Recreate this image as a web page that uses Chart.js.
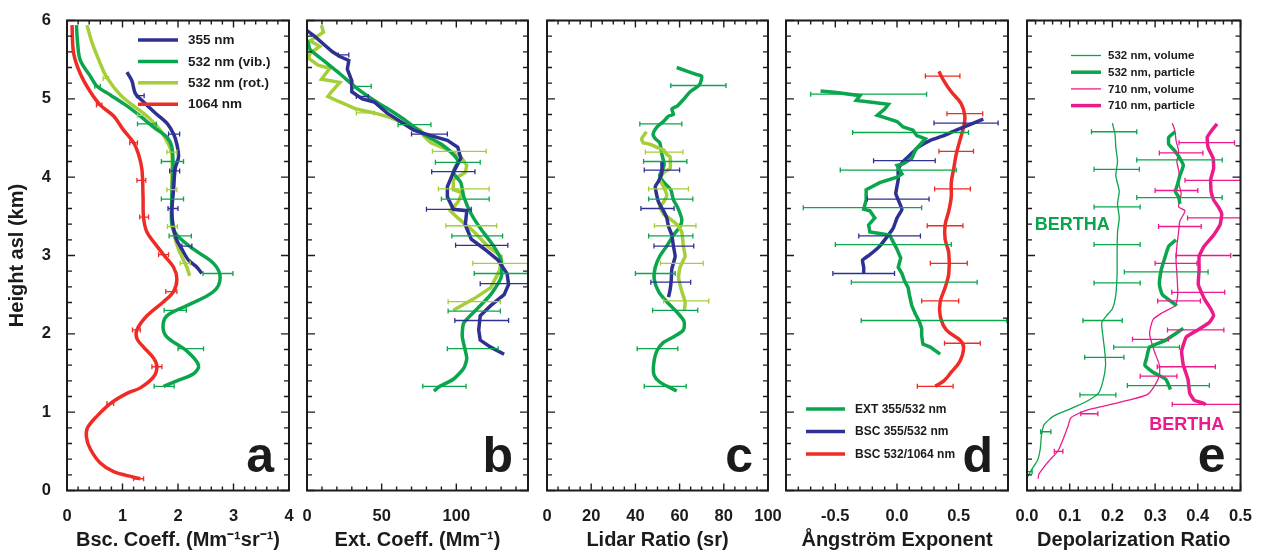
<!DOCTYPE html>
<html>
<head>
<meta charset="utf-8">
<script src="https://cdn.jsdelivr.net/npm/chart.js@4.4.0/dist/chart.umd.min.js"></script>
<style>
  body { margin: 0; background: #fff; }
  #wrap { position: relative; width: 1262px; height: 550px; }
  #wrap canvas { position: absolute; left: 0; top: 0; }
</style>
</head>
<body>
<div id="wrap">
  <canvas id="pa" width="1262" height="550"></canvas>
  <canvas id="pb" width="1262" height="550"></canvas>
  <canvas id="pc" width="1262" height="550"></canvas>
  <canvas id="pd" width="1262" height="550"></canvas>
  <canvas id="pe" width="1262" height="550"></canvas>
</div>
<script>
// ---- (a) backscatter coefficient, Mm-1 sr-1 ----
const bsc355H = [5.34,5.23,5.07,4.96,4.82,4.69,4.55,4.42,4.26,4.11,3.84,3.57,3.39,3.21,3.08,2.94,2.85,2.77];
const bsc355 = [1.08,1.17,1.23,1.38,1.59,1.8,1.92,1.98,2.01,1.95,1.92,1.89,1.91,1.97,2.07,2.19,2.34,2.43];
const bsc355Err = [[5.04,1.32,0.07],[4.55,1.93,0.1],[4.08,1.94,0.09],[3.6,1.91,0.09],[3.12,2.16,0.09]];

const bsc532vH = [5.94,5.72,5.49,5.29,5.16,5.05,4.91,4.78,4.64,4.51,4.38,4.11,3.75,3.39,3.26,3.08,2.9,2.72,2.54,2.36,2.23,2.09,1.96,1.78,1.6,1.49,1.4,1.33];
const bsc532v = [0.17,0.19,0.24,0.42,0.54,0.78,1.08,1.32,1.56,1.8,1.89,1.91,1.89,1.89,1.98,2.28,2.64,2.76,2.64,2.16,1.8,1.73,1.8,2.16,2.37,2.28,1.98,1.74];
const bsc532vErr = [[5.16,0.55,0.05],[4.68,1.44,0.17],[4.2,1.9,0.2],[3.72,1.9,0.2],[3.25,2.04,0.2],[2.77,2.72,0.27],[2.3,1.95,0.2],[1.81,2.23,0.23],[1.33,1.75,0.18]];

const bsc532rH = [5.94,5.72,5.45,5.27,5.05,4.91,4.78,4.6,4.42,4.29,4.02,3.75,3.48,3.21,3.03,2.85,2.74];
const bsc532r = [0.36,0.45,0.6,0.72,0.96,1.2,1.44,1.68,1.83,1.89,1.89,1.89,1.89,1.95,2.04,2.16,2.21];
const bsc532rErr = [[5.26,0.7,0.05],[4.79,1.34,0.07],[4.32,1.89,0.09],[3.84,1.89,0.09],[3.37,1.9,0.09],[2.9,2.13,0.09]];

const bsc1064H = [5.94,5.58,5.32,5.09,4.92,4.78,4.6,4.44,4.29,4.1,3.75,3.48,3.3,3.12,3.01,2.85,2.7,2.54,2.41,2.23,2.05,1.94,1.83,1.69,1.58,1.45,1.31,1.24,1.11,0.95,0.8,0.68,0.53,0.35,0.24,0.17,0.15];
const bsc1064 = [0.09,0.12,0.24,0.42,0.6,0.84,1.02,1.2,1.29,1.35,1.37,1.38,1.44,1.62,1.74,1.92,1.98,1.92,1.74,1.44,1.26,1.26,1.38,1.56,1.62,1.56,1.32,1.08,0.78,0.54,0.37,0.35,0.42,0.6,0.84,1.2,1.32];
const bsc1064Err = [[0.15,1.29,0.09],[1.11,0.78,0.06],[1.58,1.62,0.09],[2.05,1.25,0.07],[2.54,1.88,0.1],[3.01,1.74,0.09],[3.49,1.39,0.08],[3.96,1.34,0.08],[4.44,1.2,0.07],[4.92,0.58,0.05]];

// ---- (b) extinction coefficient, Mm-1 ----
const ext355H = [5.87,5.8,5.7,5.6,5.54,5.49,5.38,5.23,5.09,5.0,4.96,4.82,4.71,4.6,4.53,4.47,4.38,4.24,4.06,3.88,3.75,3.59,3.57,3.39,3.21,3.08,2.94,2.77,2.63,2.5,2.36,2.23,2.05,1.92,1.83,1.74];
const ext355 = [0,5,11,17,22,28,27,30,30,37,45,53.5,62.5,71.5,83,94,101,103,98,94,94,98,107,106,110,119,128,134,135,132,123,116,115,116,123,132];
const ext355Err = [[5.56,24.5,3.5],[5.03,37,4],[4.55,82,12],[4.07,98,14.5],[3.59,95,15],[3.13,117,17.5],[2.64,133,17],[2.17,117,18]];

const ext532vH = [5.75,5.7,5.63,5.49,5.32,5.14,4.98,4.85,4.71,4.55,4.42,4.29,4.2,4.06,3.93,3.75,3.53,3.35,3.12,2.94,2.72,2.5,2.32,2.14,1.96,1.69,1.56,1.42,1.33,1.27];
const ext532v = [0,1,2,11,22,33,45,56,67,78,90,98,101,98,103,105,110,116,125,130,130,123,114,105,104,107,105,98,89,85];
const ext532vErr = [[5.16,37,6],[4.67,72,11],[4.19,101,15],[3.72,106,16],[3.25,114,17],[2.77,130,18],[2.29,112,17.5],[1.81,111,17],[1.33,92,14.5]];

const ext532rH = [5.94,5.85,5.74,5.67,5.58,5.52,5.43,5.39,5.25,5.21,5.09,5.03,4.96,4.87,4.82,4.76,4.67,4.6,4.53,4.44,4.35,4.26,4.15,4.06,3.97,3.84,3.8,3.68,3.57,3.48,3.3,3.12,2.99,2.81,2.59,2.45,2.3];
const ext532r = [9.7,11,2,8.5,2,1,7.4,15.3,9.7,22,16.4,14,22,33,45,56,67,76,78,83,94,103,107,106,98,98,104,101,96,101,112,121,130,129,123,112,98];
const ext532rErr = [[4.82,39,6],[4.33,102,18],[3.85,105,17],[3.38,110,17],[2.9,130,19],[2.41,112,17.5]];

// ---- (c) lidar ratio, sr ----
const lr355H = [4.2,4.06,3.95,3.88,3.79,3.68,3.57,3.48,3.37,3.26,3.12,2.99,2.83,2.68,2.56,2.47];
const lr355 = [52,52,50.5,49,49.5,50.5,52.7,54.2,55,56.5,57.2,58,56.5,56.2,55.7,55];
const lr355Err = [[4.09,52,8],[3.6,50,7.5],[3.12,57.4,9],[2.66,56,9]];

const lr532vH = [5.4,5.31,5.29,5.18,5.09,5.0,4.91,4.87,4.8,4.78,4.71,4.64,4.55,4.49,4.44,4.29,4.15,4.02,3.93,3.84,3.71,3.62,3.46,3.37,3.26,3.12,2.99,2.85,2.7,2.54,2.41,2.27,2.16,2.05,1.96,1.89,1.78,1.6,1.47,1.38,1.27];
const lr532v = [58.7,67.8,70,69,64.8,62,59,56.5,57.2,55,52.7,49.7,48,49,51,52,53,51,53,56,57.2,59,61,60.2,57.2,54.2,51,49,48.5,50.5,54.2,59,62,61.7,57.2,52.7,49.7,48.2,48.5,51.2,58.7];
const lr532vErr = [[5.17,68.5,12.5],[4.68,51.5,9.5],[4.2,53.5,9.8],[3.72,56,10],[3.25,56,10],[2.77,49,9],[2.3,58,10.2],[1.81,50,9.2],[1.33,53.5,9.5]];

const lr532rH = [4.58,4.49,4.44,4.42,4.38,4.35,4.29,4.26,4.11,4.06,3.97,3.88,3.77,3.68,3.62,3.53,3.46,3.39,3.3,3.12,2.99,2.85,2.72,2.54,2.41,2.3];
const lr532r = [45,42.8,43.5,46.7,49.7,52.7,54.2,55.7,55.7,52.7,51,52.7,54.2,52.7,51,52.7,56,59,61,61.7,62.5,60.2,59.5,61,62.5,62.2];
const lr532rErr = [[4.32,53,8.5],[3.85,55,9],[3.38,58,9.4],[2.9,61,9.7],[2.42,63,10.2]];

// ---- (d) Angstrom exponents ----
const aeExtH = [5.1,5.08,5.04,4.98,4.96,4.93,4.87,4.79,4.75,4.71,4.64,4.6,4.53,4.49,4.42,4.35,4.24,4.17,4.15,4.04,4.0,3.93,3.84,3.71,3.59,3.57,3.48,3.39,3.3,3.28,3.26,3.17,3.08,2.97,2.85,2.77,2.68,2.59,2.5,2.36,2.25,2.16,2.07,1.98,1.87,1.83,1.74];
const aeExt = [-0.62,-0.49,-0.3,-0.33,-0.22,-0.07,-0.1,-0.16,-0.08,0,0.05,0.13,0.16,0.23,0.19,0.15,0.12,0.05,0,0.04,0,-0.14,-0.25,-0.25,-0.27,-0.22,-0.18,-0.23,-0.22,-0.14,-0.06,-0.03,0,0.03,0.01,0.04,0.06,0.09,0.1,0.12,0.15,0.18,0.2,0.2,0.21,0.27,0.35];
const aeExtErr = [[5.06,-0.23,0.47],[4.57,0.11,0.47],[4.09,0.01,0.47],[3.61,-0.28,0.48],[3.14,-0.03,0.47],[2.66,0.14,0.51],[2.17,0.3,0.59]];

const aeBsc1H = [4.74,4.67,4.6,4.53,4.47,4.38,4.29,4.2,4.11,3.97,3.79,3.71,3.59,3.48,3.35,3.26,3.12,3.01,2.94,2.85,2.77];
const aeBsc1 = [0.7,0.59,0.48,0.38,0.27,0.17,0.11,0.05,0.01,0.01,-0.01,0.01,0.04,0,-0.03,-0.07,-0.14,-0.22,-0.28,-0.27,-0.27];
const aeBsc1Err = [[4.69,0.56,0.26],[4.21,0.06,0.25],[3.72,0.01,0.25],[3.25,-0.06,0.25],[2.77,-0.27,0.25]];

const aeBsc2H = [5.35,5.23,5.09,4.94,4.78,4.64,4.47,4.29,4.11,3.93,3.75,3.57,3.39,3.21,3.03,2.77,2.59,2.41,2.23,2.05,1.92,1.83,1.65,1.51,1.4,1.33];
const aeBsc2 = [0.34,0.38,0.44,0.52,0.55,0.54,0.51,0.48,0.46,0.44,0.44,0.42,0.39,0.39,0.42,0.42,0.39,0.35,0.35,0.4,0.51,0.54,0.51,0.44,0.38,0.31];
const aeBsc2Err = [[5.29,0.37,0.14],[4.81,0.55,0.145],[4.33,0.48,0.14],[3.85,0.45,0.145],[3.38,0.39,0.145],[2.9,0.42,0.15],[2.42,0.35,0.15],[1.88,0.53,0.145],[1.33,0.31,0.145]];

// ---- (e) depolarization ratio ----
const dr532volH = [4.69,4.55,4.38,4.2,4.02,3.82,3.66,3.48,3.3,3.03,2.77,2.5,2.32,2.23,2.14,1.96,1.78,1.6,1.4,1.24,1.13,1.04,0.95,0.84,0.71,0.53,0.39,0.26,0.17];
const dr532vol = [0.2,0.206,0.208,0.212,0.208,0.216,0.212,0.216,0.212,0.211,0.211,0.208,0.2,0.186,0.175,0.178,0.182,0.184,0.178,0.167,0.137,0.1,0.062,0.04,0.034,0.031,0.025,0.01,0.001];
const dr532volErr = [[4.58,0.204,0.053],[4.1,0.21,0.053],[3.62,0.211,0.054],[3.14,0.211,0.054],[2.65,0.211,0.054],[2.17,0.177,0.046],[1.7,0.181,0.046],[1.22,0.166,0.042],[0.75,0.044,0.012],[0.24,0.005,0.007]];

// null breaks the particle profile where no value was retrieved
const dr532parH = [4.58,4.51,4.42,4.33,4.24,4.15,4.02,3.88,3.82,3.75,3.66,3.4,3.2,3.12,2.94,2.81,2.63,2.5,2.36,2.2,2.07,1.92,1.83,1.69,1.6,1.51,1.42,1.29];
const dr532par = [0.347,0.332,0.332,0.347,0.358,0.366,0.358,0.351,0.347,0.355,0.358,null,0.349,0.332,0.321,0.314,0.31,0.317,0.351,null,0.366,0.325,0.287,0.28,0.276,0.295,0.325,0.336];
const dr532parErr = [[4.22,0.357,0.1],[3.74,0.357,0.1],[2.79,0.326,0.098],[1.83,0.28,0.077],[1.34,0.331,0.096]];

const dr710volH = [4.69,4.6,4.47,4.33,4.2,4.06,3.93,3.79,3.62,3.57,3.44,3.3,3.12,2.94,2.77,2.5,2.36,2.27,2.18,2.0,1.78,1.6,1.47,1.33,1.22,1.15,1.09,1.02,0.93,0.82,0.66,0.51,0.35,0.21,0.15];
const dr710vol = [0.34,0.346,0.349,0.355,0.351,0.356,0.355,0.361,0.355,0.37,0.358,0.355,0.351,0.349,0.351,0.353,0.347,0.317,0.295,0.287,0.298,0.31,0.31,0.298,0.28,0.235,0.19,0.137,0.103,0.096,0.085,0.073,0.047,0.028,0.026];
const dr710volErr = [[4.31,0.361,0.051],[3.83,0.35,0.05],[3.37,0.358,0.05],[2.9,0.349,0.049],[2.42,0.356,0.05],[1.93,0.289,0.042],[1.46,0.308,0.043],[0.98,0.146,0.02],[0.5,0.074,0.01]];

const dr710parH = [4.68,4.6,4.51,4.38,4.24,4.11,3.97,3.82,3.71,3.62,3.53,3.39,3.26,3.12,2.99,2.81,2.63,2.45,2.32,2.23,2.14,2.05,1.96,1.78,1.6,1.42,1.24,1.15,1.11,1.09];
const dr710par = [0.445,0.433,0.422,0.424,0.436,0.437,0.43,0.431,0.437,0.448,0.456,0.452,0.437,0.415,0.403,0.403,0.401,0.415,0.43,0.437,0.426,0.4,0.373,0.362,0.366,0.377,0.381,0.392,0.415,0.418];
const dr710parErr = [[4.44,0.421,0.065],[3.96,0.435,0.065],[3.48,0.438,0.062],[3.0,0.413,0.064],[2.53,0.401,0.062],[2.05,0.395,0.066],[1.58,0.373,0.068],[1.1,0.42,0.08]];

// labelled tick values of every axis
const heightTicks = [0, 1, 2, 3, 4, 5, 6];
const bscTicks = [0, 1, 2, 3, 4];
const extTicks = [0, 50, 100];
const lrTicks = [0, 20, 40, 60, 80, 100];
const aeTicks = [-0.5, 0, 0.5];
const drTicks = [0, 0.1, 0.2, 0.3, 0.4, 0.5];

const FONT = "'Liberation Sans', Arial, Helvetica, sans-serif";
const INK = '#1b1b1b';
const BLUE = '#2e3192', GREEN = '#0aa54c', LIME = '#a6ce39', RED = '#ee2b25', PINK = '#ec1b8c';

function profile(label, heights, values, color, width, errs, tension) {
  return {
    label: label,
    data: heights.map((h, i) => ({ x: values[i], y: h })),
    borderColor: color,
    borderWidth: width,
    showLine: true,
    pointRadius: 0,
    tension: tension,
    spanGaps: false,
    errorBars: errs
  };
}

const fixedTicks = list => s => { s.ticks = list.map(v => ({ value: v })); };

// frame with inward ticks, error bars, panel letter, legend and notes
const panelDecor = {
  id: 'panelDecor',
  afterDatasetsDraw(chart, args, o) {
    const { ctx, chartArea: a, scales: { x, y } } = chart;

    ctx.save();
    ctx.beginPath();
    ctx.rect(a.left, a.top, a.right - a.left, a.bottom - a.top);
    ctx.clip();
    chart.data.datasets.forEach(ds => {
      if (!ds.errorBars) return;
      ctx.strokeStyle = ds.borderColor;
      ctx.lineWidth = 1.3;
      ds.errorBars.forEach(([h, c, d]) => {
        const py = y.getPixelForValue(h);
        const x0 = x.getPixelForValue(c - d), x1 = x.getPixelForValue(c + d);
        ctx.beginPath();
        ctx.moveTo(x0, py); ctx.lineTo(x1, py);
        ctx.moveTo(x0, py - 2.5); ctx.lineTo(x0, py + 2.5);
        ctx.moveTo(x1, py - 2.5); ctx.lineTo(x1, py + 2.5);
        ctx.stroke();
      });
    });
    ctx.restore();

    ctx.save();
    ctx.strokeStyle = INK;
    ctx.lineWidth = 1.4;
    const isMajor = (v, m) => Math.abs(v / m - Math.round(v / m)) < 1e-6;
    const xs = Math.ceil(x.min / o.minor - 1e-9);
    for (let i = xs; i * o.minor <= x.max + 1e-9; i++) {
      const v = i * o.minor, px = x.getPixelForValue(v);
      const len = isMajor(v, o.major) ? 7 : 4;
      ctx.beginPath();
      ctx.moveTo(px, a.bottom); ctx.lineTo(px, a.bottom - len);
      ctx.moveTo(px, a.top); ctx.lineTo(px, a.top + len);
      ctx.stroke();
    }
    for (let i = 0; i * 0.2 <= 6 + 1e-9; i++) {
      const v = i * 0.2, py = y.getPixelForValue(v);
      const len = isMajor(v, 1) ? 8 : 5;
      ctx.beginPath();
      ctx.moveTo(a.left, py); ctx.lineTo(a.left + len, py);
      ctx.moveTo(a.right, py); ctx.lineTo(a.right - len, py);
      ctx.stroke();
    }
    ctx.lineWidth = 2;
    ctx.strokeRect(a.left, a.top, a.right - a.left, a.bottom - a.top);

    ctx.fillStyle = INK;
    ctx.font = 'bold 50px ' + FONT;
    ctx.textAlign = 'right';
    ctx.textBaseline = 'alphabetic';
    ctx.fillText(o.letter, a.right - 15, a.bottom - 18.5);

    if (o.legend) {
      const L = o.legend;
      ctx.font = 'bold ' + L.size + 'px ' + FONT;
      ctx.textAlign = 'left';
      ctx.textBaseline = 'middle';
      chart.data.datasets.forEach((ds, i) => {
        const ly = a.top + L.y + i * L.dy;
        const lx = a.left + L.x;
        ctx.strokeStyle = ds.borderColor;
        ctx.lineWidth = ds.borderWidth;
        ctx.beginPath();
        ctx.moveTo(lx, ly); ctx.lineTo(lx + L.len, ly);
        ctx.stroke();
        ctx.fillStyle = INK;
        ctx.fillText(ds.label, lx + L.len + L.gap, ly + 0.5);
      });
    }

    (o.notes || []).forEach(n => {
      ctx.font = 'bold ' + n.size + 'px ' + FONT;
      ctx.fillStyle = n.color;
      ctx.textAlign = 'left';
      ctx.textBaseline = 'middle';
      ctx.fillText(n.text, x.getPixelForValue(n.x), y.getPixelForValue(n.y));
    });
    ctx.restore();
  }
};

function makePanel(id, p) {
  const yAxis = {
    type: 'linear', min: 0, max: 6, display: !!p.showY,
    grid: { display: false }, border: { display: false },
    afterBuildTicks: fixedTicks(heightTicks),
    ticks: {
      autoSkip: false, padding: 8, color: INK,
      font: { family: FONT, size: 16.5, weight: 'bold', lineHeight: 1 },
      callback: v => String(v)
    },
    title: {
      display: !!p.showY, text: 'Height asl (km)', color: INK,
      font: { family: FONT, size: 20, weight: 'bold', lineHeight: 1 },
      padding: { top: 7, bottom: 0 }
    }
  };
  if (p.showY) yAxis.afterFit = s => { s.width = p.left; };
  return new Chart(document.getElementById(id), {
    type: 'scatter',
    data: { datasets: p.datasets },
    options: {
      responsive: false,
      animation: false,
      events: [],
      layout: { padding: { left: p.showY ? 0 : p.left, right: 1262 - p.right, top: 20.5, bottom: 0 } },
      plugins: {
        legend: { display: false },
        tooltip: { enabled: false },
        panelDecor: { minor: p.minor, major: p.major, letter: p.letter, legend: p.legend, notes: p.notes }
      },
      scales: {
        x: {
          type: 'linear', position: 'bottom', min: p.xMin, max: p.xMax,
          grid: { display: false }, border: { display: false },
          afterBuildTicks: fixedTicks(p.ticks),
          ticks: {
            autoSkip: false, maxRotation: 0,
            padding: 10, color: INK,
            font: { family: FONT, size: 16.5, weight: 'bold', lineHeight: 1 },
            callback: p.fmt
          },
          title: {
            display: true, text: p.title, color: INK,
            font: { family: FONT, size: 20, weight: 'bold', lineHeight: 1 },
            padding: { top: 0, bottom: 0 }
          },
          afterFit: s => { s.height = 59.5; }
        },
        y: yAxis
      }
    },
    plugins: [panelDecor]
  });
}

makePanel('pa', {
  left: 67, right: 289, showY: true, xMin: 0, xMax: 4, ticks: bscTicks, minor: 0.2, major: 1,
  fmt: v => String(v), title: 'Bsc. Coeff. (Mm\u207B\u00B9sr\u207B\u00B9)', letter: 'a',
  legend: { x: 71, y: 19.5, dy: 21.4, len: 40, gap: 10, size: 13.5 },
  datasets: [
    profile('355 nm', bsc355H, bsc355, BLUE, 3.5, bsc355Err, 0.3),
    profile('532 nm (vib.)', bsc532vH, bsc532v, GREEN, 3.5, bsc532vErr, 0.35),
    profile('532 nm (rot.)', bsc532rH, bsc532r, LIME, 3.5, bsc532rErr, 0.35),
    profile('1064 nm', bsc1064H, bsc1064, RED, 3.5, bsc1064Err, 0.35)
  ]
});

makePanel('pb', {
  left: 307, right: 528, xMin: 0, xMax: 148, ticks: extTicks, minor: 10, major: 50,
  fmt: v => String(v), title: 'Ext. Coeff. (Mm\u207B\u00B9)', letter: 'b',
  datasets: [
    profile('355 nm', ext355H, ext355, BLUE, 3.5, ext355Err, 0),
    profile('532 nm (vib.)', ext532vH, ext532v, GREEN, 3.5, ext532vErr, 0.2),
    profile('532 nm (rot.)', ext532rH, ext532r, LIME, 3.5, ext532rErr, 0)
  ]
});

makePanel('pc', {
  left: 547, right: 768, xMin: 0, xMax: 100, ticks: lrTicks, minor: 5, major: 20,
  fmt: v => String(v), title: 'Lidar Ratio (sr)', letter: 'c',
  datasets: [
    profile('355 nm', lr355H, lr355, BLUE, 3.5, lr355Err, 0.1),
    profile('532 nm (rot.)', lr532rH, lr532r, LIME, 3.5, lr532rErr, 0.1),
    profile('532 nm (vib.)', lr532vH, lr532v, GREEN, 3.5, lr532vErr, 0.25)
  ]
});

makePanel('pd', {
  left: 786, right: 1008, xMin: -0.9, xMax: 0.9, ticks: aeTicks, minor: 0.1, major: 0.5,
  fmt: v => v.toFixed(1), title: '\u00C5ngstr\u00F6m Exponent', letter: 'd',
  legend: { x: 20, y: 388.5, dy: 22.5, len: 39, gap: 10, size: 12 },
  datasets: [
    profile('EXT 355/532 nm', aeExtH, aeExt, GREEN, 3.5, aeExtErr, 0),
    profile('BSC 355/532 nm', aeBsc1H, aeBsc1, BLUE, 3.5, aeBsc1Err, 0.1),
    profile('BSC 532/1064 nm', aeBsc2H, aeBsc2, RED, 3.5, aeBsc2Err, 0.35)
  ]
});

makePanel('pe', {
  left: 1027, right: 1248, xMin: 0, xMax: 0.5, ticks: drTicks, minor: 0.02, major: 0.1,
  fmt: v => v.toFixed(1), title: 'Depolarization Ratio', letter: 'e',
  legend: { x: 44, y: 35, dy: 16.7, len: 30, gap: 7, size: 11.5 },
  notes: [
    { text: 'BERTHA', x: 0.018, y: 3.39, color: GREEN, size: 18 },
    { text: 'BERTHA', x: 0.286, y: 0.83, color: PINK, size: 18 }
  ],
  datasets: [
    profile('532 nm, volume', dr532volH, dr532vol, GREEN, 1.3, dr532volErr, 0.2),
    profile('532 nm, particle', dr532parH, dr532par, GREEN, 3.5, dr532parErr, 0.15),
    profile('710 nm, volume', dr710volH, dr710vol, PINK, 1.3, dr710volErr, 0.2),
    profile('710 nm, particle', dr710parH, dr710par, PINK, 3.5, dr710parErr, 0.1)
  ]
});
</script>
</body>
</html>
